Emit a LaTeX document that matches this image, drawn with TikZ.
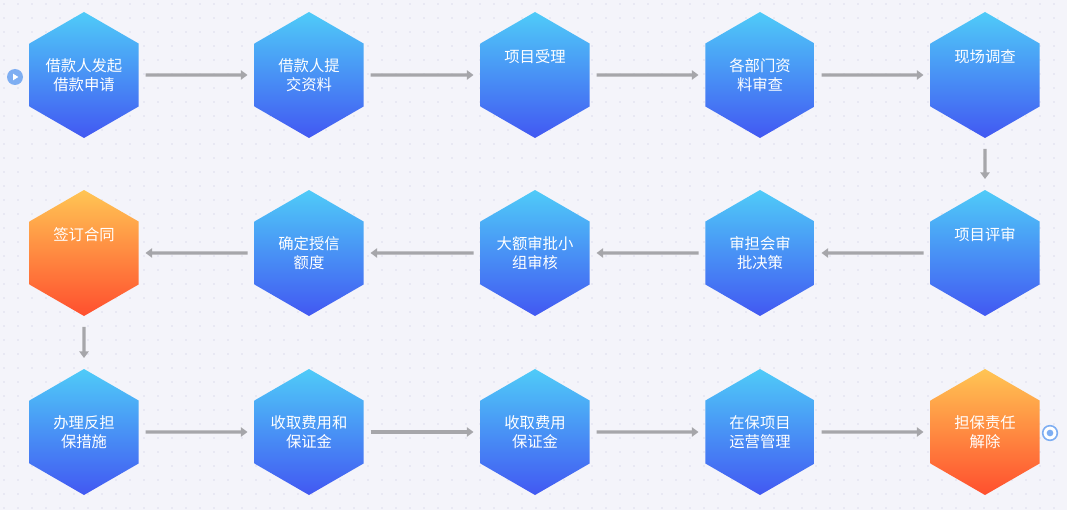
\documentclass[tikz,border=0pt]{standalone}
\usepackage{fontspec}
\newfontfamily\cjk{Noto Sans CJK SC}
\usetikzlibrary{shapes.geometric, arrows.meta, calc}
\definecolor{bgcol}{HTML}{F4F4FA}
\definecolor{dotcol}{HTML}{DCDCEC}
\definecolor{hexTop}{HTML}{4FCBF8}
\definecolor{hexBot}{HTML}{4258F2}
\definecolor{orTop}{HTML}{FFC554}
\definecolor{orBot}{HTML}{FF4F2E}
\definecolor{flowcol}{HTML}{A6A6AA}
\definecolor{markcol}{HTML}{7EAEF2}
\tikzset{
	step hex/.style={
		regular polygon, regular polygon sides=6,
		shape border rotate=30,
		minimum size=94.5pt, inner sep=0pt,
		top color=hexTop, bottom color=hexBot, draw=none,
		text=white, align=center, font=\cjk\fontsize{11.5}{14}\selectfont
	},
	key hex/.style={
		step hex, top color=orTop, bottom color=orBot
	},
	flow/.style={
		draw=flowcol, line width=2.3pt, shorten <=5pt, shorten >=5pt,
		-{Triangle[length=5pt, width=7pt]}
	},
}
\begin{document}
\begin{tikzpicture}[x=0.75pt, y=-0.75pt]
	\fill[bgcol] (0,0) rectangle (1067,510);
	\useasboundingbox (0,0) rectangle (1067,510);
	\foreach \i in {0,...,76} {
		\foreach \j in {0,...,36} {
			\fill[dotcol] (\i*14+4, \j*14+4) circle (0.6pt);
		}
	}
%
	\node[step hex] (s1)  at (84,75)  {借款人发起\\借款申请};
	\node[step hex] (s2)  at (309,75) {借款人提\\交资料};
	\node[step hex] (s3)  at (535,75) {项目受理\\[14pt]};
	\node[step hex] (s4)  at (760,75) {各部门资\\料审查};
	\node[step hex] (s5)  at (985,75) {现场调查\\[14pt]};
	\node[step hex] (s6)  at (985,253) {项目评审\\[14pt]};
	\node[step hex] (s7)  at (760,253) {审担会审\\批决策};
	\node[step hex] (s8)  at (535,253) {大额审批小\\组审核};
	\node[step hex] (s9)  at (309,253) {确定授信\\额度};
	\node[key hex]  (s10) at (84,253)  {签订合同\\[14pt]};
	\node[step hex] (s11) at (84,432)  {办理反担\\保措施};
	\node[step hex] (s12) at (309,432) {收取费用和\\保证金};
	\node[step hex] (s13) at (535,432) {收取费用\\保证金};
	\node[step hex] (s14) at (760,432) {在保项目\\运营管理};
	\node[key hex]  (s15) at (985,432) {担保责任\\解除};
%
	\node[circle, fill=markcol, minimum size=12pt, inner sep=0pt] (start) at (15,77) {};
	\fill[white] ($(start)+(-1.5pt,-2.5pt)$) -- ++(4pt,2.5pt) -- ++(-4pt,2.5pt) -- cycle;
	\node[circle, draw=markcol, line width=1.2pt, fill=white, minimum size=11pt, inner sep=0pt] (stop) at (1050,433) {};
	\fill[markcol] (stop) circle (2.5pt);
%
	\foreach \a/\b in {s1/s2, s2/s3, s3/s4, s4/s5, s6/s7, s7/s8, s8/s9, s9/s10,
		s11/s12, s12/s13, s13/s14, s14/s15}
		\draw[flow] (\a) -- (\b);
	\draw[flow, shorten <=8pt, shorten >=8pt] (s5) -- (s6);
	\draw[flow, shorten <=8pt, shorten >=8pt] (s10) -- (s11);
\end{tikzpicture}
\end{document}
